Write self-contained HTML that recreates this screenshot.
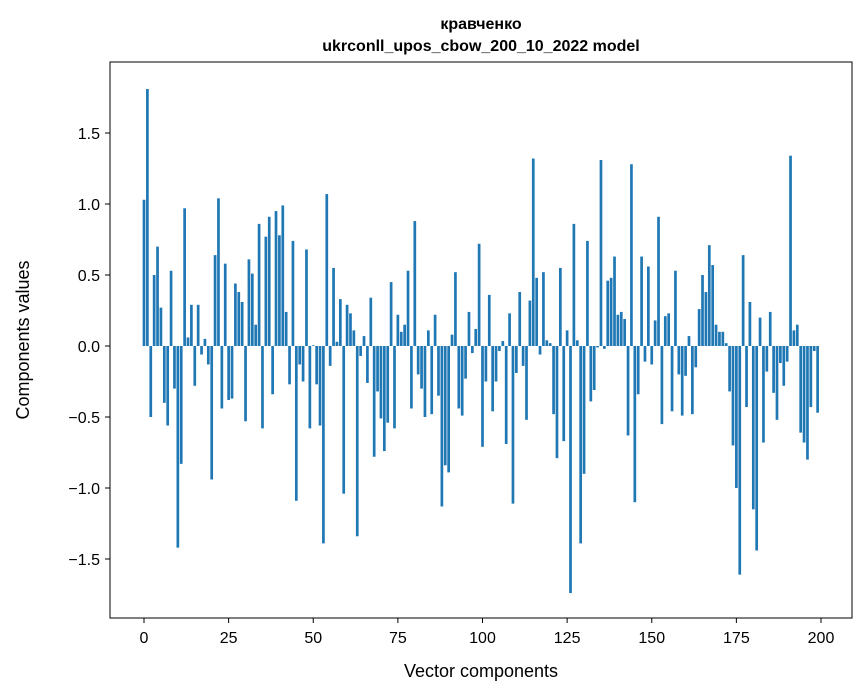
<!DOCTYPE html>
<html><head><meta charset="utf-8"><style>
body{margin:0;background:#fff;}
svg{display:block;font-family:"Liberation Sans","DejaVu Sans",sans-serif;}
</style></head><body>
<svg id="chart" width="867" height="696">
<rect width="867" height="696" fill="#fff"/>
<text x="481" y="29" text-anchor="middle" font-size="16" font-weight="bold">кравченко</text>
<text x="481" y="51" text-anchor="middle" font-size="16" font-weight="bold">ukrconll_upos_cbow_200_10_2022 model</text>
<g id="bars"></g>
<g id="axes"></g>
<rect x="110" y="62" width="742" height="556" fill="none" stroke="#000" stroke-width="1"/>
<text x="481" y="677" text-anchor="middle" font-size="18">Vector components</text>
<text x="0" y="0" transform="translate(29,340) rotate(-90)" text-anchor="middle" font-size="18">Components values</text>
</svg>
<script>
const values = [1.03,1.81,-0.50,0.50,0.70,0.27,-0.40,-0.56,0.53,-0.30,
-1.42,-0.83,0.97,0.06,0.29,-0.28,0.29,-0.06,0.05,-0.13,
-0.94,0.64,1.04,-0.44,0.58,-0.38,-0.37,0.44,0.38,0.31,
-0.53,0.61,0.51,0.15,0.86,-0.58,0.77,0.91,-0.34,0.95,
0.78,0.99,0.24,-0.27,0.74,-1.09,-0.13,-0.25,0.68,-0.58,
0.005,-0.27,-0.56,-1.39,1.07,-0.14,0.55,0.03,0.33,-1.04,
0.29,0.23,0.11,-1.34,-0.07,0.07,-0.26,0.34,-0.78,-0.32,
-0.51,-0.74,-0.54,0.45,-0.58,0.22,0.10,0.15,0.53,-0.44,
0.88,-0.20,-0.30,-0.50,0.11,-0.48,0.22,-0.35,-1.13,-0.84,
-0.89,0.08,0.52,-0.44,-0.49,-0.23,0.24,-0.05,0.12,0.72,
-0.71,-0.25,0.36,-0.46,-0.25,-0.035,0.035,-0.69,0.23,-1.11,
-0.19,0.38,-0.14,-0.52,0.32,1.32,0.48,-0.06,0.52,0.04,
0.02,-0.48,-0.79,0.55,-0.67,0.11,-1.74,0.86,0.04,-1.39,
-0.90,0.74,-0.39,-0.31,-0.01,1.31,-0.02,0.46,0.48,0.63,
0.22,0.24,0.19,-0.63,1.28,-1.10,-0.34,0.63,-0.11,0.56,
-0.13,0.18,0.91,-0.55,0.21,0.23,-0.46,0.53,-0.20,-0.49,
-0.21,0.07,-0.48,-0.15,0.26,0.50,0.38,0.71,0.57,0.15,
0.10,0.10,0.02,-0.32,-0.70,-1.00,-1.61,0.64,-0.43,0.31,
-1.15,-1.44,0.20,-0.68,-0.18,0.24,-0.33,-0.52,-0.12,-0.28,
-0.11,1.34,0.11,0.15,-0.61,-0.68,-0.80,-0.43,-0.035,-0.47];
const xTicks = [0,25,50,75,100,125,150,175,200];
const yTicks = [-1.5,-1.0,-0.5,0.0,0.5,1.0,1.5];
const yTickLabels = ["\u22121.5","\u22121.0","\u22120.5","0.0","0.5","1.0","1.5"];

const NS="http://www.w3.org/2000/svg";
const xs = v => 144 + v*3.385;
const ys = v => 346 - v*142;
const bars=document.getElementById('bars');
values.forEach((v,i)=>{
  const r=document.createElementNS(NS,'rect');
  const y0=ys(0), y1=ys(v);
  r.setAttribute('x', xs(i)-1.35);
  r.setAttribute('width', 2.7);
  r.setAttribute('y', Math.min(y0,y1));
  r.setAttribute('height', Math.max(Math.abs(y1-y0),0.3));
  r.setAttribute('fill','#1f77b4');
  
  
  bars.appendChild(r);
});
const axes=document.getElementById('axes');
xTicks.forEach(t=>{
  const l=document.createElementNS(NS,'line');
  l.setAttribute('x1',xs(t));l.setAttribute('x2',xs(t));
  l.setAttribute('y1',618);l.setAttribute('y2',623);
  l.setAttribute('stroke','#000');
  
  
  axes.appendChild(l);
  const tx=document.createElementNS(NS,'text');
  tx.setAttribute('x',xs(t));tx.setAttribute('y',643);
  tx.setAttribute('text-anchor','middle');tx.setAttribute('font-size','16');
  tx.textContent=t;
  
  
  axes.appendChild(tx);
});
yTicks.forEach((t,i)=>{
  const l=document.createElementNS(NS,'line');
  l.setAttribute('x1',105);l.setAttribute('x2',110);
  l.setAttribute('y1',ys(t));l.setAttribute('y2',ys(t));
  l.setAttribute('stroke','#000');
  
  
  axes.appendChild(l);
  const tx=document.createElementNS(NS,'text');
  tx.setAttribute('x',100);tx.setAttribute('y',ys(t)+6);
  tx.setAttribute('text-anchor','end');tx.setAttribute('font-size','16');
  tx.textContent=yTickLabels[i];
  
  
  axes.appendChild(tx);
});
</script>
</body></html>
